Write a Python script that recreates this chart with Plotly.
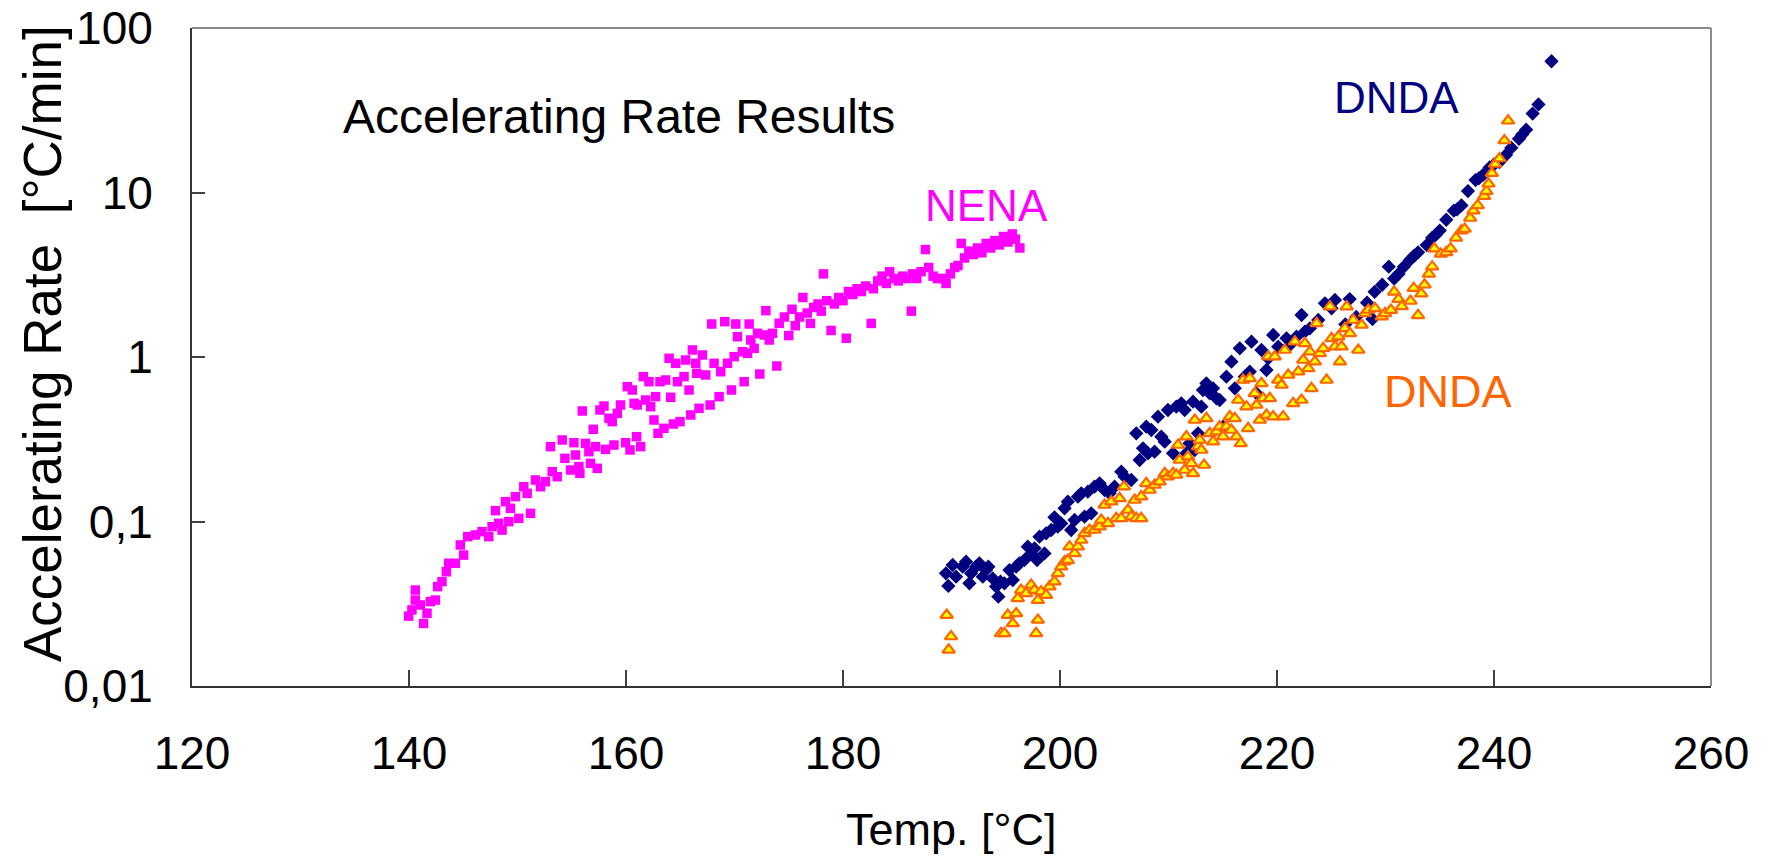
import plotly.graph_objects as go

# ---------------- data ----------------
x_tick_vals = [120, 140, 160, 180, 200, 220, 240, 260]
y_tick_vals = [0.01, 0.1, 1, 10, 100]
y_tick_text = ["0,01", "0,1", "1", "10", "100"]

nena_temp = [
    139.97, 140.27, 140.58, 140.58, 141.04, 141.35, 141.66, 141.97, 142.43, 142.64,
    143.04, 143.44, 143.66, 144.27, 144.73, 145.04, 145.41, 146.12, 146.73, 147.35,
    147.66, 147.97, 148.27, 148.58, 148.89, 149.35, 149.2, 149.81, 150.12, 150.58,
    150.89, 151.2, 151.66, 152.12, 152.58, 153.04, 153.2, 153.66, 154.12, 154.37,
    154.89, 155.2, 155.35, 155.66, 155.75, 155.97, 156.27, 156.58, 156.73, 156.98,
    157.2, 157.35, 157.6, 157.97, 158.12, 158.43, 158.73, 158.89, 159.2, 159.5,
    159.97, 160.12, 160.37, 160.58, 160.74, 161.04, 160.98, 161.35, 161.6, 161.81,
    162.12, 162.27, 162.58, 162.73, 162.95, 163.13, 163.5, 163.66, 164.12, 164.37,
    163.97, 164.58, 164.74, 164.98, 165.35, 165.5, 165.81, 165.97, 166.12, 166.43,
    166.52, 166.73, 167.04, 167.35, 167.75, 167.9, 168.12, 168.58, 168.73, 169.1,
    169.35, 169.72, 169.97, 170.12, 170.27, 170.73, 170.89, 171.2, 171.35, 171.5,
    171.81, 172.12, 172.33, 172.73, 172.89, 173.2, 173.5, 173.9, 174.12,
    174.6, 175.0, 175.3, 175.6, 176.0, 176.3, 176.7, 177.0, 177.3, 177.7,
    178.0, 178.2, 178.5, 178.9, 179.2, 179.6, 180.0, 180.3, 180.5, 180.9,
    181.3, 181.7, 182.1, 182.6, 182.8, 183.2, 183.6, 184.0, 184.3, 184.7,
    185.1, 185.5, 185.9, 186.3, 186.4, 186.8, 187.2, 187.6, 187.9, 188.3,
    188.7, 189.1, 189.5, 189.9, 190.3, 190.6, 190.9, 191.2, 191.6, 192.0,
    192.4, 192.8, 193.2, 193.6, 194.0, 194.4, 194.8, 195.2, 195.6, 195.9, 196.3,
]
nena_rate = [
    0.0266, 0.0290, 0.0383, 0.0333, 0.0311, 0.0240, 0.0277, 0.0326, 0.0333, 0.0402,
    0.0431, 0.0495, 0.0557, 0.0557, 0.0720, 0.0625, 0.0809, 0.0828, 0.0867, 0.0809,
    0.0930, 0.1164, 0.0975, 0.0887, 0.1320, 0.1202, 0.0998, 0.1416, 0.1045, 0.1627,
    0.1483, 0.1121, 0.1787, 0.1627, 0.1746, 0.2851, 0.2009, 0.1873, 0.3129, 0.2421,
    0.2056, 0.3013, 0.2536, 0.2156, 0.1963, 0.4699, 0.2985, 0.2658, 0.2257, 0.3633,
    0.2851, 0.2104, 0.4762, 0.5035, 0.2746, 0.4237, 0.4046, 0.2917, 0.4545, 0.5106,
    0.3013, 0.6602, 0.2721, 0.6301, 0.5227, 0.5106, 0.3279, 0.2851, 0.7596, 0.5477,
    0.7079, 0.4989, 0.4140, 0.5741, 0.3436, 0.7079, 0.3684, 0.7247, 0.5686, 0.3915,
    0.9817, 0.9152, 0.7079, 0.4046, 0.7596, 0.9590, 0.6301, 0.4440, 1.103, 0.9152,
    0.7957, 0.4875, 1.0285, 0.7774, 0.5106, 1.587, 0.9152, 0.5741, 0.8141, 1.640,
    0.9152, 0.6301, 1.005, 1.587, 1.329, 1.077, 0.7079, 1.053, 1.587, 1.269,
    1.129, 1.393, 0.788, 1.361, 1.913, 1.269, 1.393, 0.8815, 1.602,
    1.75, 1.35, 1.95, 1.55, 1.75, 2.3, 1.85, 1.6, 2.0, 2.1,
    1.9, 3.2, 2.2, 1.45, 2.1, 2.3, 2.2, 1.3, 2.5, 2.4,
    2.6, 2.5, 2.7, 1.6, 2.6, 2.9, 3.1, 2.8, 3.3, 3.0,
    2.9, 3.1, 3.0, 1.9, 3.2, 3.0, 3.3, 4.5, 3.5, 3.1,
    3.0, 3.0, 2.8, 3.2, 3.5, 3.6, 4.9, 4.0, 4.4, 4.2,
    4.6, 4.3, 4.9, 4.6, 5.1, 4.8, 5.4, 5.0, 5.6, 5.2, 4.6,
]

dnda1_temp = [
    189.49, 189.71, 190.11, 190.42, 191.03, 191.34, 191.65, 191.8, 192.26, 192.57,
    192.88, 193.18, 193.4, 193.8, 194.11, 194.32, 194.51, 194.88, 195.34, 195.65,
    195.96, 196.26, 196.72, 197.03, 197.34, 197.65, 197.89, 198.11, 198.57, 198.72,
    199.19, 199.49, 199.8, 200.11, 200.42, 200.72, 201.03, 201.34, 201.65, 201.96,
    202.26, 202.57, 202.88, 203.18, 203.65, 204.11, 204.57, 205.03, 205.65, 205.95,
    206.57, 207.03, 207.34, 207.65, 207.95, 208.11, 208.42, 208.72, 209.03, 209.34,
    209.65, 209.95, 210.42, 210.72, 211.18, 211.49, 211.65, 211.95, 212.26, 212.42,
    212.72, 213.03, 213.18, 213.49, 213.8, 214.11, 214.42, 214.72, 215.03, 215.34,
    215.8, 216.11, 216.57, 217.03, 217.49, 217.65, 218.11, 218.57, 219.03, 219.19,
    219.65, 220.11, 220.88, 221.18, 221.8, 222.26, 222.57, 223.03, 223.8, 224.42,
    225.03, 225.34,
    226.3, 226.7, 227.3, 228.3, 228.8, 229.0, 229.7, 230.3, 231.2, 231.7,
    232.3, 233.0, 233.8, 234.3, 235.0, 235.6, 236.3, 237.0, 237.6, 238.3,
    238.6, 239.6, 240.5, 241.1, 241.6, 242.3, 242.96, 243.56, 244.1, 245.3,
    230.8, 232.6, 234.6, 236.6, 239.0, 240.0, 242.6,
]
dnda1_rate = [
    0.0484, 0.0406, 0.0544, 0.0462, 0.0531, 0.0570, 0.0421, 0.0484, 0.0531, 0.0557,
    0.0462, 0.0507, 0.0531, 0.0451, 0.0402, 0.0349, 0.0431, 0.0421, 0.0507, 0.0441,
    0.0531, 0.0557, 0.0583, 0.0703, 0.0640, 0.0687, 0.0583, 0.0809, 0.0640, 0.0847,
    0.0888, 0.1060, 0.0930, 0.0974, 0.1202, 0.1320, 0.0888, 0.1021, 0.1416, 0.1483,
    0.1070, 0.1518, 0.1121, 0.1628, 0.1706, 0.1554, 0.1483, 0.1628, 0.2009, 0.1873,
    0.1788, 0.3436, 0.2365, 0.2785, 0.3771, 0.2597, 0.3599, 0.2658, 0.4338, 0.3279,
    0.3056, 0.4762, 0.2597, 0.4989, 0.5227, 0.4762, 0.2597, 0.2986, 0.5352, 0.2721,
    0.3436, 0.4989, 0.6301, 0.6918, 0.6012, 0.6449, 0.5607, 0.5477, 0.3771, 0.7596,
    0.9367, 0.6449, 1.129, 0.7596, 0.8141, 1.239, 0.6012, 1.103, 0.8337, 0.9817,
    1.361, 1.156, 1.299, 1.183, 1.329, 1.800, 1.426, 1.494, 1.679, 2.120,
    1.976, 2.221,
    1.58, 2.25, 1.75, 2.14, 1.70, 2.49, 2.75, 3.54, 3.20, 3.54,
    3.92, 4.33, 4.79, 5.3, 5.87, 6.83, 7.75, 8.35, 10.2, 11.9,
    12.2, 14.2, 15.3, 16.9, 18.7, 21.2, 24.1, 30.2, 34.3, 62.8,
    3.0, 4.1, 5.5, 7.9, 12.8, 14.8, 22.5,
]

dnda2_temp = [
    189.56, 189.96, 189.74, 194.57, 194.88, 195.19, 195.65, 195.96, 196.11, 196.42,
    196.88, 197.34, 197.65, 197.96, 197.8, 197.96, 198.26, 198.72, 199.03, 199.49,
    199.8, 200.11, 200.42, 200.72, 200.88, 201.34, 201.65, 201.96, 202.26, 202.72,
    203.18, 203.65, 203.8, 204.11, 204.42, 204.72, 205.18, 205.49, 205.65, 205.89,
    206.26, 206.57, 206.88, 207.03, 207.49, 207.49, 207.95, 208.26, 208.72, 209.18,
    209.65, 209.95, 210.42, 210.72, 210.88, 211.03, 211.49, 211.65, 211.8, 212.11,
    212.26, 212.42, 212.72, 212.88, 213.03, 213.28, 213.49, 213.8, 214.11, 214.42,
    214.72, 215.03, 215.34, 215.65, 215.8, 216.11, 216.26, 216.42, 216.66, 216.88,
    217.19, 217.34, 217.49, 217.95, 218.11, 218.42, 218.57, 218.72, 219.03, 219.19,
    219.34, 219.65, 219.8, 220.11, 220.42, 220.57, 220.72, 221.03, 221.49, 221.65,
    221.96, 222.26, 222.42, 222.57, 222.88, 223.03, 223.18, 223.49, 223.65, 223.95,
    224.26, 224.57, 224.88, 225.03, 225.34, 225.65, 225.8, 225.95, 226.26, 226.42,
    226.72, 227.03, 227.49, 227.8, 228.11, 228.42, 229.03, 229.65, 229.96,
    230.5, 230.8, 231.2, 231.5, 232.3, 232.6, 233.0, 233.3, 233.6, 234.0,
    234.3, 234.5, 235.1, 235.6, 236.0, 236.5, 237.0, 237.3, 237.8, 238.1,
    238.5, 239.1, 239.3, 239.5, 239.8, 240.1, 240.5, 240.96, 241.3,
]
dnda2_rate = [
    0.0270, 0.0200, 0.0166, 0.0209, 0.0209, 0.0270, 0.0240, 0.0276, 0.0341, 0.0383,
    0.0366, 0.0411, 0.0383, 0.0333, 0.0209, 0.0252, 0.0375, 0.0357, 0.0402, 0.0431,
    0.0484, 0.0531, 0.0570, 0.0583, 0.0703, 0.0640, 0.0703, 0.0772, 0.0847, 0.0888,
    0.0888, 0.0930, 0.1021, 0.1260, 0.0974, 0.1320, 0.1045, 0.1382, 0.1045, 0.1628,
    0.1175, 0.1070, 0.1351, 0.1045, 0.1045, 0.1416, 0.1706, 0.1554, 0.1667, 0.1746,
    0.1963, 0.1873, 0.1963, 0.1917, 0.2917, 0.2365, 0.2056, 0.3279, 0.2477, 0.2257,
    0.1963, 0.4140, 0.2851, 0.3129, 0.2721, 0.2206, 0.4237, 0.3436, 0.3056, 0.3516,
    0.3771, 0.3279, 0.3771, 0.4338, 0.3599, 0.4237, 0.3279, 0.5477, 0.2985, 0.7247,
    0.4989, 0.3684, 0.7418, 0.6012, 0.5106, 0.4140, 0.6918, 0.5607, 0.4440, 1.005,
    0.5607, 0.4338, 1.005, 0.7247, 0.6758, 0.4338, 1.103, 0.7774, 0.5227, 1.239,
    0.8141, 0.5477, 0.9590, 1.211, 0.8533, 1.077, 0.6449, 0.9367, 1.602, 1.053,
    1.129, 0.7247, 2.023, 1.299, 1.156, 1.329, 0.9367, 1.156, 1.494, 2.023,
    1.393, 1.679, 1.103, 1.565, 1.842, 1.931, 1.976, 1.759, 1.842,
    1.93, 2.49, 2.25, 2.03, 2.19, 2.62, 1.79, 2.43, 2.75, 3.2,
    3.54, 4.56, 4.23, 4.33, 4.56, 5.3, 5.87, 6.0, 7.0, 7.75,
    8.35, 9.5, 10.2, 11.3, 13.1, 14.9, 16.1, 20.7, 27.3,
]

assert len(nena_temp) == len(nena_rate)
assert len(dnda1_temp) == len(dnda1_rate)
assert len(dnda2_temp) == len(dnda2_rate)

# ---------------- styling ----------------
FONT = "Liberation Sans, Arial, sans-serif"

fig = go.Figure()
fig.add_trace(go.Scatter(
    x=nena_temp, y=nena_rate, mode="markers", name="NENA",
    marker=dict(symbol="square", size=9.5, color="#FF00FF", line=dict(width=0)),
))
fig.add_trace(go.Scatter(
    x=dnda1_temp, y=dnda1_rate, mode="markers", name="DNDA",
    marker=dict(symbol="diamond", size=11, color="#000080", line=dict(width=0)),
))
fig.add_trace(go.Scatter(
    x=dnda2_temp, y=dnda2_rate, mode="markers", name="DNDA ",
    marker=dict(symbol="triangle-up", size=11, color="#FFFF00",
                line=dict(width=2.2, color="#FF6600")),
))

fig.update_layout(
    width=1765, height=856,
    margin=dict(l=192, r=54, t=28, b=170, autoexpand=False),
    paper_bgcolor="white", plot_bgcolor="white",
    showlegend=False,
)
fig.update_xaxes(
    range=[120, 260], tickmode="array", tickvals=x_tick_vals,
    ticks="inside", ticklen=16, tickwidth=1.5, tickcolor="#404040",
    showline=True, linecolor="#333333", linewidth=2,
    showgrid=False, zeroline=False, automargin=False,
    tickfont=dict(family=FONT, size=46, color="black"),
    ticklabelstandoff=26,
)
fig.update_yaxes(
    type="log", range=[-2, 2], tickmode="array",
    tickvals=y_tick_vals, ticktext=y_tick_text,
    ticks="inside", ticklen=13, tickwidth=1.5, tickcolor="#404040",
    showline=True, linecolor="#333333", linewidth=2,
    showgrid=False, zeroline=False, automargin=False,
    tickfont=dict(family=FONT, size=46, color="black"),
    ticklabelstandoff=28,
)

# top / right frame (lighter grey)
fig.add_shape(type="line", xref="paper", yref="paper", x0=0, x1=1, y0=1, y1=1,
              line=dict(color="#8c8c8c", width=2))
fig.add_shape(type="line", xref="paper", yref="paper", x0=1, x1=1, y0=0, y1=1,
              line=dict(color="#8c8c8c", width=2))

# axis titles
fig.add_annotation(text="Temp. [°C]", xref="paper", yref="paper",
                   x=0.5, y=-0.218, xanchor="center", yanchor="middle",
                   showarrow=False, font=dict(family=FONT, size=45, color="black"))
fig.add_annotation(text="Accelerating Rate \u00a0[°C/min]", xref="paper", yref="paper",
                   x=-0.0988, y=0.521, xanchor="center", yanchor="middle",
                   textangle=-90, showarrow=False,
                   font=dict(family=FONT, size=53, color="black"))

# in-plot labels
fig.add_annotation(text="Accelerating Rate Results", x=159.4, y=1.465,
                   xanchor="center", yanchor="middle", showarrow=False,
                   font=dict(family=FONT, size=48, color="black"))
fig.add_annotation(text="NENA", x=193.2, y=0.918, xanchor="center", yanchor="middle",
                   showarrow=False, font=dict(family=FONT, size=44, color="#FF00FF"))
fig.add_annotation(text="DNDA", x=231.0, y=1.58, xanchor="center", yanchor="middle",
                   showarrow=False, font=dict(family=FONT, size=44, color="#000080"))
fig.add_annotation(text="DNDA", x=235.8, y=-0.207, xanchor="center", yanchor="middle",
                   showarrow=False, font=dict(family=FONT, size=45, color="#FF6600"))

fig.write_html("out.html", config={"displayModeBar": False})
